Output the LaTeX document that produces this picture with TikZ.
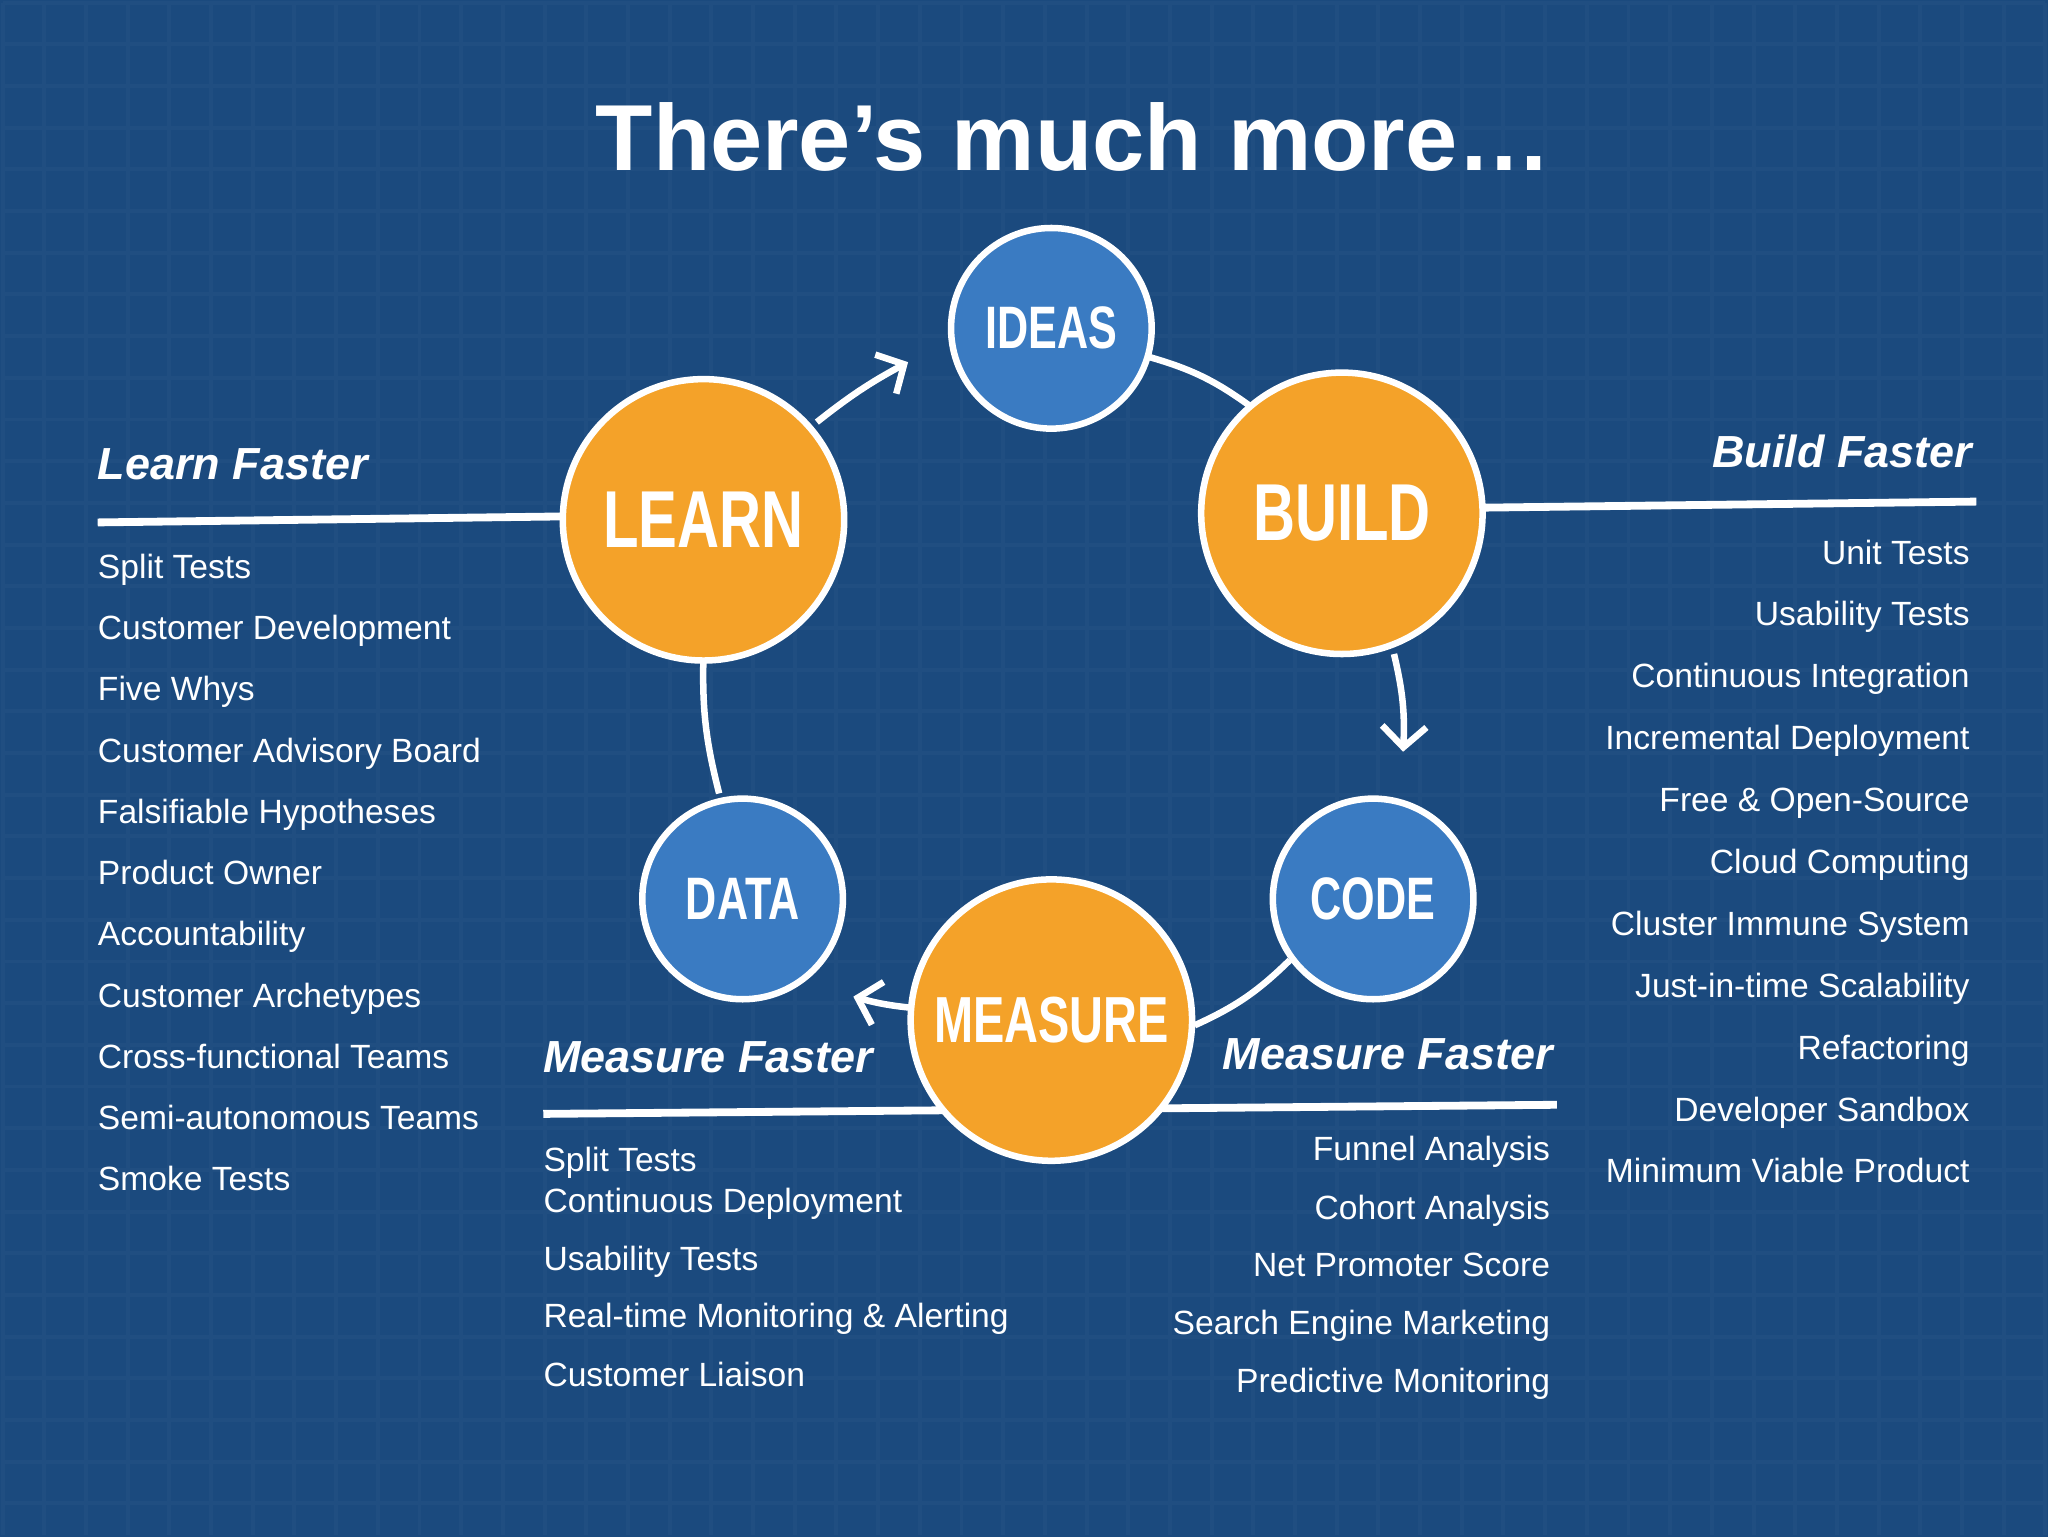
\documentclass[tikz,border=0pt]{standalone}
\usepackage{fontspec}
\setmainfont{Liberation Sans}
\usetikzlibrary{arrows.meta}
\definecolor{bg}{HTML}{1B4A7E}
\definecolor{org}{HTML}{F4A229}
\definecolor{blu}{HTML}{3A7BC2}
\tikzset{
 big/.style={circle,fill=org,draw=white,line width=5pt,minimum size=216pt,inner sep=0pt,text=white,font=\fontsize{62}{62}\selectfont\bfseries},
 small/.style={circle,fill=blu,draw=white,line width=5pt,minimum size=154pt,inner sep=0pt,text=white,font=\fontsize{46}{46}\selectfont\bfseries},
 conn/.style={white,line width=5pt},
 arr/.style={conn,-{Straight Barb[length=16pt,width=34pt,line width=5pt]}},
 item/.style={text=white,font=\fontsize{25.8}{25.8}\selectfont,inner sep=0pt},
 head/.style={text=white,font=\fontsize{34.5}{34.5}\selectfont\bfseries\itshape,inner sep=0pt},
}
\begin{document}
\begin{tikzpicture}[x=1pt,y=-1pt]
\fill[bg] (-2,-2) rectangle (1570,1178);
\draw[white,opacity=0.025,line width=3pt,step=32pt] (0,0) grid (1568,1176);
\useasboundingbox (0,0) rectangle (1568,1176);
\node[text=white,font=\fontsize{72}{72}\selectfont\bfseries] (title) at (822,103) {There’s much more…};
% lines
\coordinate (l1) at (73,399); \coordinate (r1) at (1515,383);
\coordinate (bl) at (415,853); \coordinate (br) at (1193,846);
\draw[conn,line width=6pt] (l1) -- (538,393);
\draw[conn,line width=6pt] (1028,389) -- (r1);
\draw[conn,line width=6pt] (bl) -- (br);
% connectors
\draw[conn] (880,272) to[bend left=10] (958,310);
\draw[conn] (988,735) to[bend left=10] (915,785);
\draw[conn] (550,607) to[bend left=8] (538,500);
\draw[arr] (625,322) to[bend left=5] (695,276);
\draw[arr] (1068,500) to[bend left=8] (1075,575);
\draw[arr] (702,772) to[bend left=5] (653,763);
% circles
\node[small] (ideas) at (805,250) {\scalebox{0.72}[1]{IDEAS}};
\node[big] (learn) at (538,397) {\scalebox{0.72}[1]{LEARN}};
\node[big] (build) at (1028,392) {\scalebox{0.72}[1]{BUILD}};
\node[small] (code) at (1052,688) {\scalebox{0.72}[1]{CODE}};
\node[small] (data) at (568,688) {\scalebox{0.72}[1]{DATA}};
\node[big,font=\fontsize{50}{50}\selectfont\bfseries] (measure) at (805,781) {\scalebox{0.72}[1]{MEASURE}};
% headers
\node[head,anchor=base west] (hl) at (73,366) {Learn Faster};
\node[head,anchor=base east] (hr) at (1512,357) {Build Faster};
\node[head,anchor=base west] (hbl) at (415,821) {Measure Faster};
\node[head,anchor=base east] (hbr) at (1190,819) {Measure Faster};
% left list
\foreach \t [count=\i] in {Split Tests,Customer Development,Five Whys,Customer Advisory Board,Falsifiable Hypotheses,Product Owner,Accountability,Customer Archetypes,Cross-functional Teams,Semi-autonomous Teams,Smoke Tests}
  \node[item,anchor=base west] (L\i) at (73,{433+9+(\i-1)*47}) {\t};
% right list
\foreach \t [count=\i] in {Unit Tests,Usability Tests,Continuous Integration,Incremental Deployment,Free \& Open-Source,Cloud Computing,Cluster Immune System,Just-in-time Scalability,Refactoring,Developer Sandbox,Minimum Viable Product}
  \node[item,anchor=base east] (R\i) at (1510,{422+9+(\i-1)*47.5}) {\t};
% bottom left
\foreach \t/\y [count=\i] in {Split Tests/888,Continuous Deployment/920,Usability Tests/964,Real-time Monitoring \& Alerting/1008,Customer Liaison/1053}
  \node[item,anchor=base west] (BL\i) at (415,\y+9) {\t};
% bottom right
\foreach \t/\y [count=\i] in {Funnel Analysis/880,Cohort Analysis/925,Net Promoter Score/969,Search Engine Marketing/1013,Predictive Monitoring/1058}
  \node[item,anchor=base east] (BR\i) at (1188,\y+9) {\t};
\end{tikzpicture}
\end{document}
